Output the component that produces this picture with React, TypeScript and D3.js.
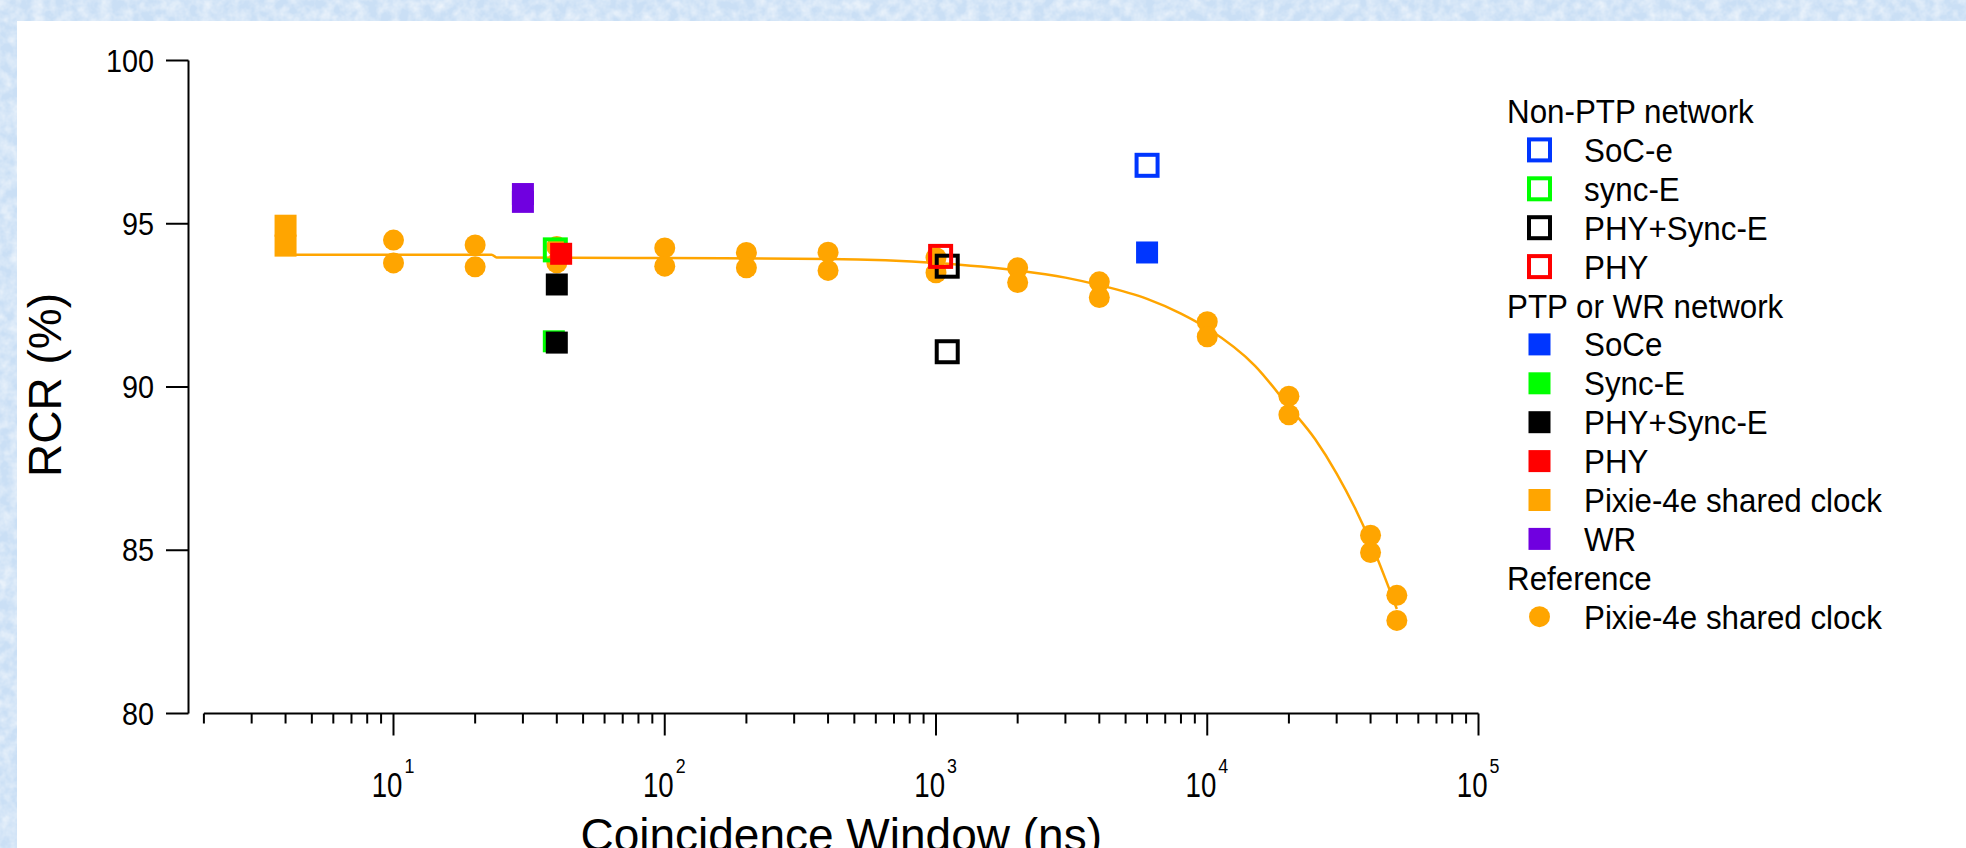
import React, { useEffect } from "react";
import * as d3 from "d3";

const W = 1966;
const H = 848;

// Reference: Pixie-4e shared clock (filled circles, two runs per window)
const refX = [10, 10, 20, 20, 40, 40, 100, 100, 200, 200, 400, 400, 1000, 1000, 2000, 2000, 4000, 4000, 10000, 10000, 20000, 20000, 40000, 40000, 50000, 50000];
const refY = [94.5, 93.8, 94.35, 93.68, 94.3, 93.8, 94.26, 93.7, 94.12, 93.65, 94.13, 93.57, 93.96, 93.5, 93.65, 93.2, 93.22, 92.74, 92.0, 91.54, 89.72, 89.15, 85.46, 84.93, 83.62, 82.85];

// fitted curve through the reference points
const fitX = [4, 23, 24, 100, 400, 1000, 2000, 3000, 4000, 6000, 8000, 10000, 15000, 20000, 25000, 30000, 35000, 40000, 45000, 50000];
const fitY = [94.05, 94.05, 93.97, 93.95, 93.92, 93.8, 93.57, 93.35, 93.12, 92.7, 92.25, 91.8, 90.65, 89.4, 88.4, 87.35, 86.3, 85.25, 84.2, 83.2];

// Non-PTP network (open squares)
const socEOpenX = [6000];
const socEOpenY = [96.79];
const syncEOpenX = [39.5];
const syncEOpenY = [94.2];
const phySyncOpenX = [1100, 1100];
const phySyncOpenY = [93.7, 91.08];
const phyOpenX = [1040];
const phyOpenY = [94.0];

// PTP or WR network (filled squares)
const soCeX = [6000];
const soCeY = [94.12];
const syncEX = [39];
const syncEY = [91.4];
const phySyncX = [40, 40];
const phySyncY = [93.14, 91.36];
const phyX = [41.5];
const phyY = [94.08];
const pixieX = [4, 4];
const pixieY = [94.94, 94.33];
const wrX = [30, 30];
const wrY = [95.91, 95.67];

const yTicks = [80, 85, 90, 95, 100];
const xMajor = [10, 100, 1000, 10000, 100000];
const xExp = ["1", "2", "3", "4", "5"];

const groupTitles = ["Non-PTP network", "PTP or WR network", "Reference"];

const C = {
  blue: "#0036ff",
  green: "#00ff00",
  black: "#000000",
  red: "#ff0000",
  orange: "#ffa500",
  purple: "#7000e0",
};

const openSeries = [
  { label: "SoC-e", x: socEOpenX, y: socEOpenY, color: C.blue },
  { label: "sync-E", x: syncEOpenX, y: syncEOpenY, color: C.green },
  { label: "PHY+Sync-E", x: phySyncOpenX, y: phySyncOpenY, color: C.black },
  { label: "PHY", x: phyOpenX, y: phyOpenY, color: C.red },
];
const filledSeries = [
  { label: "SoCe", x: soCeX, y: soCeY, color: C.blue },
  { label: "Sync-E", x: syncEX, y: syncEY, color: C.green },
  { label: "PHY+Sync-E", x: phySyncX, y: phySyncY, color: C.black },
  { label: "PHY", x: phyX, y: phyY, color: C.red },
  { label: "Pixie-4e shared clock", x: pixieX, y: pixieY, color: C.orange },
  { label: "WR", x: wrX, y: wrY, color: C.purple },
];

const FONT = "'Liberation Sans', Arial, Helvetica, sans-serif";

export default function App() {
  useEffect(() => {
    document.body.style.margin = "0";
    document.body.style.overflow = "hidden";
  }, []);

  const xs = d3.scaleLog().domain([2, 100000]).range([203.9, 1478.5]);
  const ys = d3.scaleLinear().domain([80, 100]).range([713.5, 60.5]);

  const minor: number[] = [];
  for (let k = 0; k < 5; k++) {
    for (let m = 2; m <= 9; m++) {
      const v = m * Math.pow(10, k);
      if (v >= 2 && v < 100000) minor.push(v);
    }
  }

  const fitLine = d3
    .line<number>()
    .x((_, i) => xs(fitX[i]))
    .y((_, i) => ys(fitY[i]))
    .curve(d3.curveMonotoneX);

  const axisY = ys(80);
  const OPEN = 21;
  const FILL = 22;

  // legend layout
  const lgX = 1507;
  const lgMark = 1539.5;
  const lgText = 1584;
  const lgY0 = 111;
  const lgDy = 38.9;
  const rows: any[] = [];
  rows.push({ kind: "title", text: groupTitles[0] });
  openSeries.forEach((s) => rows.push({ kind: "open", text: s.label, color: s.color }));
  rows.push({ kind: "title", text: groupTitles[1] });
  filledSeries.forEach((s) => rows.push({ kind: "fill", text: s.label, color: s.color }));
  rows.push({ kind: "title", text: groupTitles[2] });
  rows.push({ kind: "circle", text: "Pixie-4e shared clock", color: C.orange });

  return (
    <svg
      width={W}
      height={H}
      style={{ position: "absolute", left: 0, top: 0, display: "block" }}
      fontFamily={FONT}
    >
      <defs>
        <filter id="tex" x="0" y="0" width="100%" height="100%">
          <feTurbulence type="fractalNoise" baseFrequency="0.09" numOctaves="3" seed="4" />
          <feColorMatrix type="matrix" values="0 0 0 0 1  0 0 0 0 1  0 0 0 0 1  1.1 0 0 0 -0.35" />
        </filter>
      </defs>
      <rect width={W} height={H} fill="#cadff5" />
      <rect width={W} height={H} filter="url(#tex)" />
      <rect x={17} y={21} width={W - 17} height={H - 21} fill="#ffffff" />

      {/* y axis */}
      <line x1={188.5} x2={188.5} y1={ys(100)} y2={ys(80)} stroke="#000" strokeWidth={2} />
      {yTicks.map((t) => (
        <g key={t}>
          <line x1={166} x2={188.5} y1={ys(t)} y2={ys(t)} stroke="#000" strokeWidth={2} />
          <text
            transform={`translate(154,${ys(t) + 11}) scale(0.9,1)`}
            textAnchor="end"
            fontSize={32}
            fill="#000"
          >
            {t}
          </text>
        </g>
      ))}
      <text
        transform={`translate(61,385) rotate(-90)`}
        textAnchor="middle"
        fontSize={46}
        fill="#000"
      >
        RCR (%)
      </text>

      {/* x axis */}
      <line x1={xs(2)} x2={xs(100000)} y1={axisY} y2={axisY} stroke="#000" strokeWidth={2} />
      {minor.map((v) => (
        <line key={"m" + v} x1={xs(v)} x2={xs(v)} y1={axisY} y2={axisY + 10} stroke="#000" strokeWidth={2} />
      ))}
      {xMajor.map((v, i) => (
        <g key={"M" + v}>
          <line x1={xs(v)} x2={xs(v)} y1={axisY} y2={axisY + 22} stroke="#000" strokeWidth={2} />
          <text
            transform={`translate(${xs(v) + 9},797) scale(0.79,1)`}
            textAnchor="end"
            fontSize={35}
            fill="#000"
          >
            10
          </text>
          <text
            transform={`translate(${xs(v) + 11},773) scale(0.85,1)`}
            fontSize={21}
            fill="#000"
          >
            {xExp[i]}
          </text>
        </g>
      ))}
      <text x={(xs(2) + xs(100000)) / 2} y={851} textAnchor="middle" fontSize={46} fill="#000">
        Coincidence Window (ns)
      </text>

      {/* fit curve */}
      <path d={fitLine(fitX) || ""} fill="none" stroke={C.orange} strokeWidth={2.5} />

      {/* reference circles */}
      {refX.map((x, i) => (
        <circle key={"r" + i} cx={xs(x)} cy={ys(refY[i])} r={10.5} fill={C.orange} />
      ))}

      {/* non-PTP open squares */}
      {openSeries.map((s) =>
        s.x.map((x, i) => (
          <rect
            key={s.label + "o" + i}
            x={xs(x) - OPEN / 2}
            y={ys(s.y[i]) - OPEN / 2}
            width={OPEN}
            height={OPEN}
            fill="none"
            stroke={s.color}
            strokeWidth={4}
          />
        ))
      )}

      {/* PTP / WR filled squares */}
      {filledSeries.map((s) =>
        s.x.map((x, i) => (
          <rect
            key={s.label + "f" + i}
            x={xs(x) - FILL / 2}
            y={ys(s.y[i]) - FILL / 2}
            width={FILL}
            height={FILL}
            fill={s.color}
          />
        ))
      )}

      {/* legend */}
      {rows.map((r, i) => {
        const cy = lgY0 + i * lgDy;
        return (
          <g key={"lg" + i}>
            {r.kind === "title" ? (
              <text transform={`translate(${lgX},${cy + 12}) scale(0.95,1)`} fontSize={33} fill="#000">
                {r.text}
              </text>
            ) : (
              <>
                {r.kind === "open" && (
                  <rect x={lgMark - OPEN / 2} y={cy - OPEN / 2} width={OPEN} height={OPEN} fill="none" stroke={r.color} strokeWidth={4} />
                )}
                {r.kind === "fill" && (
                  <rect x={lgMark - FILL / 2} y={cy - FILL / 2} width={FILL} height={FILL} fill={r.color} />
                )}
                {r.kind === "circle" && <circle cx={lgMark} cy={cy} r={10.5} fill={r.color} />}
                <text transform={`translate(${lgText},${cy + 12}) scale(0.95,1)`} fontSize={33} fill="#000">
                  {r.text}
                </text>
              </>
            )}
          </g>
        );
      })}
    </svg>
  );
}
